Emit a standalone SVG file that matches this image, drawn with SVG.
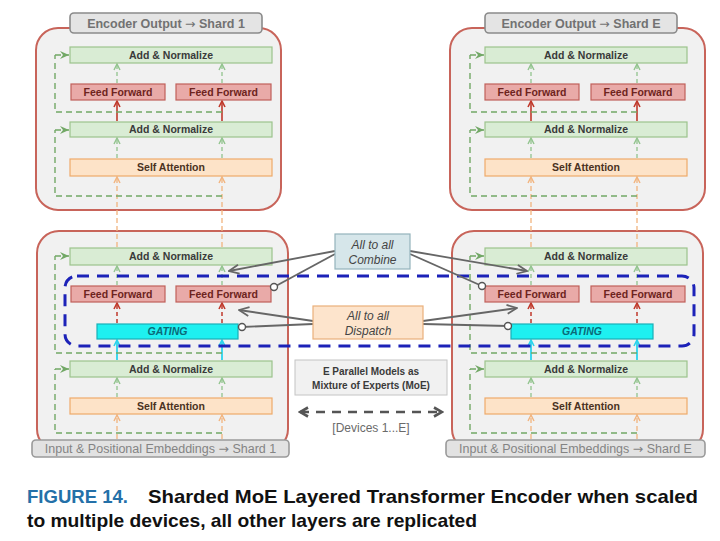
<svg xmlns="http://www.w3.org/2000/svg" width="720" height="541" viewBox="0 0 720 541">
<defs>
<style>
.panel{fill:#f1f1f1;stroke:#c8645a;stroke-width:2}
.an{fill:#d9ecd4;stroke:#9cc48c;stroke-width:1.2}
.ff{fill:#e9aaa8;stroke:#c0605a;stroke-width:1.2}
.sa{fill:#fde3c8;stroke:#eeaa6a;stroke-width:1.2}
.gt{fill:#1ef0f0;stroke:#18b0b8;stroke-width:1.2}
.hdr{fill:#e4e4e4;stroke:#8a8a8a;stroke-width:1.6}
.t{font-family:"Liberation Sans",Arial,sans-serif;font-size:10.5px;font-weight:bold;text-anchor:middle}
.tan{fill:#3a3a3a}
.tff{fill:#6e2420}
.tsa{fill:#4a3222}
.tgt{fill:#0a6a78;font-style:italic}
.th{font-family:"Liberation Sans",Arial,sans-serif;font-size:12.5px;font-weight:bold;fill:#727272;text-anchor:middle}
.ti{font-family:"Liberation Sans",Arial,sans-serif;font-size:12.5px;fill:#848484;text-anchor:middle}
.arw{font-family:"DejaVu Sans",sans-serif;font-weight:normal}
.ag{stroke:#92c48e;stroke-width:1.3;stroke-dasharray:4 3;fill:none;marker-end:url(#mg)}
.ao{stroke:#f2b47e;stroke-width:1.3;stroke-dasharray:5 3;fill:none;marker-end:url(#mo)}
.ar{stroke:#c0392b;stroke-width:1.6;fill:none;marker-end:url(#mr)}
.ard{stroke:#c0392b;stroke-width:1.5;stroke-dasharray:4 3;fill:none;marker-end:url(#mr)}
.ac{stroke:#2ad4ec;stroke-width:1.8;fill:none;marker-end:url(#mc)}
.res{stroke:#72a866;stroke-width:1.4;stroke-dasharray:6 4;fill:none}
.resa{stroke:#72a866;stroke-width:1.4;stroke-dasharray:6 4;fill:none;marker-end:url(#mres)}
.gl{stroke:#666;stroke-width:1.8;fill:none}
.gla{stroke:#666;stroke-width:1.8;fill:none;marker-end:url(#mgray)}
.dot{fill:#fff;stroke:#555;stroke-width:1.4}
</style>
<marker id="mg" viewBox="0 0 8 8" refX="7" refY="4" markerWidth="8" markerHeight="8" markerUnits="userSpaceOnUse" orient="auto"><path d="M1,1 L7,4 L1,7" fill="none" stroke="#92c48e" stroke-width="1.4"/></marker>
<marker id="mo" viewBox="0 0 8 8" refX="7" refY="4" markerWidth="8" markerHeight="8" markerUnits="userSpaceOnUse" orient="auto"><path d="M1,1 L7,4 L1,7" fill="none" stroke="#f2b47e" stroke-width="1.4"/></marker>
<marker id="mr" viewBox="0 0 8 8" refX="7" refY="4" markerWidth="8" markerHeight="8" markerUnits="userSpaceOnUse" orient="auto"><path d="M1,1 L7,4 L1,7" fill="none" stroke="#c0392b" stroke-width="1.6"/></marker>
<marker id="mc" viewBox="0 0 8 8" refX="7" refY="4" markerWidth="8" markerHeight="8" markerUnits="userSpaceOnUse" orient="auto"><path d="M1,1 L7,4 L1,7" fill="none" stroke="#2ad4ec" stroke-width="1.6"/></marker>
<marker id="mres" viewBox="0 0 10 10" refX="9" refY="5" markerWidth="10" markerHeight="10" markerUnits="userSpaceOnUse" orient="auto"><path d="M0,1 L9,5 L0,9 L3,5 z" fill="#72a866"/></marker>
<marker id="mgray" viewBox="0 0 12 12" refX="11" refY="6" markerWidth="12" markerHeight="12" markerUnits="userSpaceOnUse" orient="auto"><path d="M1,1.5 L11,6 L1,10.5" fill="none" stroke="#666" stroke-width="1.8"/></marker>
<marker id="mdbl" viewBox="0 0 12 12" refX="10" refY="6" markerWidth="12" markerHeight="12" markerUnits="userSpaceOnUse" orient="auto-start-reverse"><path d="M2,1.5 L10,6 L2,10.5" fill="none" stroke="#555" stroke-width="2.6"/></marker>
</defs>
<rect width="720" height="541" fill="#ffffff"/>

<!-- panels -->
<g id="panel-upper-1"><rect class="panel" x="36" y="28" width="245" height="182" rx="22"/></g>
<g id="panel-upper-E"><rect class="panel" x="450" y="28" width="255" height="182" rx="22"/></g>
<g id="panel-lower-1"><rect class="panel" x="37" y="231" width="251" height="220" rx="22"/></g>
<g id="panel-lower-E"><rect class="panel" x="452" y="231" width="251" height="220" rx="22"/></g>

<!-- connectors -->
<g id="connectors">
  <!-- upper left -->
  <line class="ao" x1="117" y1="247" x2="117" y2="177"/>
  <line class="ao" x1="222" y1="247" x2="222" y2="177"/>
  <line class="ag" x1="117" y1="158" x2="117" y2="138"/>
  <line class="ag" x1="222" y1="158" x2="222" y2="138"/>
  <line class="ar" x1="117" y1="121" x2="117" y2="101"/>
  <line class="ar" x1="222" y1="121" x2="222" y2="101"/>
  <line class="ag" x1="117" y1="83" x2="117" y2="64"/>
  <line class="ag" x1="222" y1="83" x2="222" y2="64"/>
  <path class="res" d="M222,112 H55 V55"/>
  <line class="resa" x1="55" y1="55" x2="69" y2="55"/>
  <path class="res" d="M222,196 H55 V130"/>
  <line class="resa" x1="55" y1="130" x2="69" y2="130"/>
  <!-- upper right -->
  <line class="ao" x1="531" y1="247" x2="531" y2="177"/>
  <line class="ao" x1="637" y1="247" x2="637" y2="177"/>
  <line class="ag" x1="531" y1="158" x2="531" y2="138"/>
  <line class="ag" x1="637" y1="158" x2="637" y2="138"/>
  <line class="ar" x1="531" y1="121" x2="531" y2="101"/>
  <line class="ar" x1="637" y1="121" x2="637" y2="101"/>
  <line class="ag" x1="531" y1="83" x2="531" y2="64"/>
  <line class="ag" x1="637" y1="83" x2="637" y2="64"/>
  <path class="res" d="M637,112 H470 V55"/>
  <line class="resa" x1="470" y1="55" x2="484" y2="55"/>
  <path class="res" d="M637,196 H470 V130"/>
  <line class="resa" x1="470" y1="130" x2="484" y2="130"/>
  <!-- lower left -->
  <line class="ao" x1="117" y1="439" x2="117" y2="415"/>
  <line class="ao" x1="222" y1="439" x2="222" y2="415"/>
  <line class="ag" x1="117" y1="397" x2="117" y2="378"/>
  <line class="ag" x1="222" y1="397" x2="222" y2="378"/>
  <line class="ac" x1="117" y1="360" x2="117" y2="340"/>
  <line class="ac" x1="222" y1="360" x2="222" y2="340"/>
  <line class="ard" x1="117" y1="323" x2="117" y2="303"/>
  <line class="ard" x1="222" y1="323" x2="222" y2="303"/>
  <line class="ag" x1="117" y1="285" x2="117" y2="266"/>
  <line class="ag" x1="222" y1="285" x2="222" y2="266"/>
  <path class="res" d="M222,353 H55 V256"/>
  <line class="resa" x1="55" y1="256" x2="69" y2="256"/>
  <path class="res" d="M222,433 H55 V369"/>
  <line class="resa" x1="55" y1="369" x2="69" y2="369"/>
  <!-- lower right -->
  <line class="ao" x1="531" y1="439" x2="531" y2="415"/>
  <line class="ao" x1="637" y1="439" x2="637" y2="415"/>
  <line class="ag" x1="531" y1="397" x2="531" y2="378"/>
  <line class="ag" x1="637" y1="397" x2="637" y2="378"/>
  <line class="ac" x1="531" y1="360" x2="531" y2="340"/>
  <line class="ac" x1="637" y1="360" x2="637" y2="340"/>
  <line class="ard" x1="531" y1="323" x2="531" y2="303"/>
  <line class="ard" x1="637" y1="323" x2="637" y2="303"/>
  <line class="ag" x1="531" y1="285" x2="531" y2="266"/>
  <line class="ag" x1="637" y1="285" x2="637" y2="266"/>
  <path class="res" d="M637,353 H470 V256"/>
  <line class="resa" x1="470" y1="256" x2="484" y2="256"/>
  <path class="res" d="M637,433 H470 V369"/>
  <line class="resa" x1="470" y1="369" x2="484" y2="369"/>
</g>

<!-- upper left nodes -->
<g id="hdr-out-1"><rect class="hdr" x="70" y="13" width="192" height="20" rx="4"/><text class="th" x="166" y="27.5">Encoder Output <tspan class="arw">→</tspan> Shard 1</text></g>
<g id="u1-an-top"><rect class="an" x="70" y="47" width="202" height="16"/><text class="t tan" x="171" y="58.7">Add &amp; Normalize</text></g>
<g id="u1-ff-a"><rect class="ff" x="71" y="84" width="94" height="16"/><text class="t tff" x="118" y="95.7">Feed Forward</text></g>
<g id="u1-ff-b"><rect class="ff" x="176" y="84" width="95" height="16"/><text class="t tff" x="223.5" y="95.7">Feed Forward</text></g>
<g id="u1-an"><rect class="an" x="70" y="122" width="202" height="15"/><text class="t tan" x="171" y="133.2">Add &amp; Normalize</text></g>
<g id="u1-sa"><rect class="sa" x="70" y="159" width="202" height="17"/><text class="t tsa" x="171" y="171.2">Self Attention</text></g>

<!-- upper right nodes -->
<g id="hdr-out-E"><rect class="hdr" x="485" y="13" width="192" height="20" rx="4"/><text class="th" x="581" y="27.5">Encoder Output <tspan class="arw">→</tspan> Shard E</text></g>
<g id="uE-an-top"><rect class="an" x="485" y="47" width="202" height="16"/><text class="t tan" x="586" y="58.7">Add &amp; Normalize</text></g>
<g id="uE-ff-a"><rect class="ff" x="485" y="84" width="94" height="16"/><text class="t tff" x="532" y="95.7">Feed Forward</text></g>
<g id="uE-ff-b"><rect class="ff" x="591" y="84" width="94" height="16"/><text class="t tff" x="638" y="95.7">Feed Forward</text></g>
<g id="uE-an"><rect class="an" x="485" y="122" width="202" height="15"/><text class="t tan" x="586" y="133.2">Add &amp; Normalize</text></g>
<g id="uE-sa"><rect class="sa" x="485" y="159" width="202" height="17"/><text class="t tsa" x="586" y="171.2">Self Attention</text></g>

<!-- lower left nodes -->
<g id="l1-an-top"><rect class="an" x="70" y="248" width="202" height="17"/><text class="t tan" x="171" y="260.2">Add &amp; Normalize</text></g>
<g id="l1-ff-a"><rect class="ff" x="71" y="286" width="94" height="16"/><text class="t tff" x="118" y="297.7">Feed Forward</text></g>
<g id="l1-ff-b"><rect class="ff" x="176" y="286" width="95" height="16"/><text class="t tff" x="223.5" y="297.7">Feed Forward</text></g>
<g id="l1-gating"><rect class="gt" x="97" y="324" width="141" height="15"/><text class="t tgt" x="167.5" y="335.2">GATING</text></g>
<g id="l1-an"><rect class="an" x="70" y="361" width="202" height="16"/><text class="t tan" x="171" y="372.7">Add &amp; Normalize</text></g>
<g id="l1-sa"><rect class="sa" x="70" y="398" width="202" height="16"/><text class="t tsa" x="171" y="409.7">Self Attention</text></g>
<g id="in-1"><rect class="hdr" x="32" y="440" width="257" height="17" rx="4" style="fill:#e2e2e2;stroke:#9a9a9a"/><text class="ti" x="160.5" y="452.8">Input &amp; Positional Embeddings <tspan class="arw">→</tspan> Shard 1</text></g>

<!-- lower right nodes -->
<g id="lE-an-top"><rect class="an" x="485" y="248" width="202" height="17"/><text class="t tan" x="586" y="260.2">Add &amp; Normalize</text></g>
<g id="lE-ff-a"><rect class="ff" x="485" y="286" width="94" height="16"/><text class="t tff" x="532" y="297.7">Feed Forward</text></g>
<g id="lE-ff-b"><rect class="ff" x="591" y="286" width="94" height="16"/><text class="t tff" x="638" y="297.7">Feed Forward</text></g>
<g id="lE-gating"><rect class="gt" x="511" y="324" width="142" height="15"/><text class="t tgt" x="582" y="335.2">GATING</text></g>
<g id="lE-an"><rect class="an" x="485" y="361" width="202" height="16"/><text class="t tan" x="586" y="372.7">Add &amp; Normalize</text></g>
<g id="lE-sa"><rect class="sa" x="485" y="398" width="202" height="16"/><text class="t tsa" x="586" y="409.7">Self Attention</text></g>
<g id="in-E"><rect class="hdr" x="446" y="440" width="259" height="17" rx="4" style="fill:#e2e2e2;stroke:#9a9a9a"/><text class="ti" x="575.5" y="452.8">Input &amp; Positional Embeddings <tspan class="arw">→</tspan> Shard E</text></g>

<!-- MoE dashed boundary -->
<g id="moe-boundary"><rect x="65" y="276" width="629" height="70" rx="12" fill="none" stroke="#1c22b8" stroke-width="3" stroke-dasharray="12 8"/></g>

<!-- all-to-all links -->
<g id="all-to-all-links">
  <line class="gla" x1="335" y1="251" x2="229" y2="271"/>
  <line class="gl" x1="335" y1="254" x2="274" y2="287"/>
  <line class="gla" x1="410" y1="251" x2="527" y2="271"/>
  <line class="gl" x1="410" y1="254" x2="482" y2="286"/>
  <line class="gla" x1="313" y1="321" x2="239" y2="310"/>
  <line class="gl" x1="313" y1="324" x2="242" y2="327"/>
  <line class="gla" x1="423" y1="321" x2="517" y2="308"/>
  <line class="gl" x1="423" y1="324" x2="508" y2="326"/>
  <circle class="dot" cx="274" cy="287" r="3.5"/>
  <circle class="dot" cx="482" cy="286" r="3.5"/>
  <circle class="dot" cx="242" cy="327" r="3.5"/>
  <circle class="dot" cx="508" cy="326" r="3.5"/>
</g>

<g id="combine"><rect x="335" y="234" width="75" height="35" fill="#d6e6ea" stroke="#93b3bb" stroke-width="1.2"/>
<text font-family="Liberation Sans,Arial,sans-serif" font-size="12" font-style="italic" fill="#444" text-anchor="middle" x="372.5" y="248.5">All to all</text>
<text font-family="Liberation Sans,Arial,sans-serif" font-size="12" font-style="italic" fill="#444" text-anchor="middle" x="372.5" y="264">Combine</text></g>
<g id="dispatch"><rect x="313" y="306" width="110" height="33" fill="#fde4cc" stroke="#eab07a" stroke-width="1.2"/>
<text font-family="Liberation Sans,Arial,sans-serif" font-size="12" font-style="italic" fill="#444" text-anchor="middle" x="368" y="319.5">All to all</text>
<text font-family="Liberation Sans,Arial,sans-serif" font-size="12" font-style="italic" fill="#444" text-anchor="middle" x="368" y="335">Dispatch</text></g>
<g id="moe-note"><rect x="295" y="360" width="152" height="35" fill="#f1f1f1" stroke="#c4c4c4" stroke-width="1"/>
<text class="t" style="fill:#3a3a3a;font-size:10px" x="371" y="374.5">E Parallel Models as</text>
<text class="t" style="fill:#3a3a3a;font-size:10px" x="371" y="389">Mixture of Experts (MoE)</text></g>
<g id="devices"><line x1="300" y1="412" x2="442" y2="412" stroke="#555" stroke-width="2.6" stroke-dasharray="9 7" marker-start="url(#mdbl)" marker-end="url(#mdbl)"/>
<text font-family="Liberation Sans,Arial,sans-serif" font-size="12" fill="#6a6a6a" text-anchor="middle" x="371" y="432">[Devices 1...E]</text></g>

<!-- caption -->
<g id="caption" font-family="Liberation Sans,Arial,sans-serif" font-size="18.5" font-weight="bold">
<text x="27" y="503" fill="#2470a8" textLength="101" lengthAdjust="spacingAndGlyphs">FIGURE 14.</text>
<text x="148" y="503" fill="#111" textLength="550" lengthAdjust="spacingAndGlyphs">Sharded MoE Layered Transformer Encoder when scaled</text>
<text x="27" y="527" fill="#111" textLength="450" lengthAdjust="spacingAndGlyphs">to multiple devices, all other layers are replicated</text>
</g>
</svg>
